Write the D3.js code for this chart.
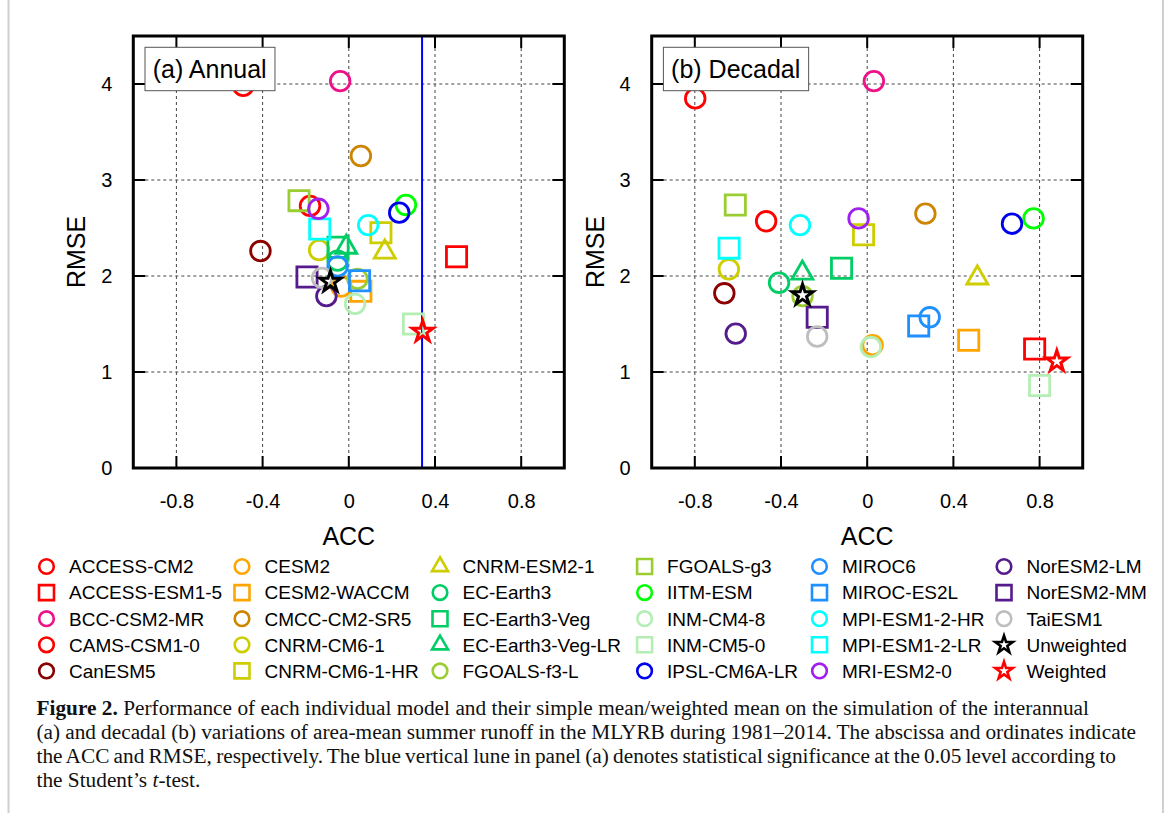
<!DOCTYPE html>
<html><head><meta charset="utf-8">
<script src="https://cdn.jsdelivr.net/npm/d3@7"></script>
<style>body{margin:0;background:#fff;overflow:hidden}</style>
</head><body>
<svg id="chart" width="1171" height="813"></svg>
<script>
// ---------------- data ----------------
const models = ["ACCESS-CM2","ACCESS-ESM1-5","BCC-CSM2-MR","CAMS-CSM1-0","CanESM5",
  "CESM2","CESM2-WACCM","CMCC-CM2-SR5","CNRM-CM6-1","CNRM-CM6-1-HR",
  "CNRM-ESM2-1","EC-Earth3","EC-Earth3-Veg","EC-Earth3-Veg-LR","FGOALS-f3-L",
  "FGOALS-g3","IITM-ESM","INM-CM4-8","INM-CM5-0","IPSL-CM6A-LR",
  "MIROC6","MIROC-ES2L","MPI-ESM1-2-HR","MPI-ESM1-2-LR","MRI-ESM2-0",
  "NorESM2-LM","NorESM2-MM","TaiESM1","Unweighted","Weighted"];
const shapes = ["circle","square","circle","circle","circle",
  "circle","square","circle","circle","square",
  "triangle","circle","square","triangle","circle",
  "square","circle","circle","square","circle",
  "circle","square","circle","square","circle",
  "circle","square","circle","star","star"];
const colors = ["#ff0000","#ff0000","#ee1289","#ff0000","#8b0000",
  "#ffa500","#ffa500","#cd8500","#cdcd00","#cdcd00",
  "#cdcd00","#00cd66","#00cd66","#00cd66","#9acd32",
  "#9acd32","#00ff00","#b4eeb4","#b4eeb4","#0000ee",
  "#1e90ff","#1e90ff","#00ffff","#00ffff","#a020f0",
  "#551a8b","#551a8b","#bebebe","#000000","#ff0000"];
const accAnnual = [-0.49,0.50,-0.04,-0.18,-0.41,
  -0.035,0.056,0.056,-0.138,0.149,
  0.167,-0.052,-0.05,-0.012,0.04,
  -0.231,0.265,0.029,0.30,0.234,
  -0.052,0.05,0.09,-0.135,-0.141,
  -0.104,-0.194,-0.124,-0.085,0.343];
const rmseAnnual = [3.98,2.20,4.03,2.73,2.26,
  1.89,1.84,3.25,2.27,2.45,
  2.25,2.16,2.30,2.30,1.97,
  2.785,2.74,1.71,1.50,2.66,
  2.10,1.95,2.53,2.49,2.70,
  1.79,1.99,1.98,1.94,1.42];
const accDecadal = [-0.798,0.777,0.031,-0.469,-0.663,
  0.025,0.471,0.27,-0.642,-0.017,
  0.511,-0.409,-0.119,-0.301,-0.30,
  -0.612,0.772,0.017,0.80,0.672,
  0.29,0.239,-0.312,-0.641,-0.04,
  -0.61,-0.232,-0.232,-0.30,0.88];
const rmseDecadal = [3.85,1.24,4.03,2.57,1.82,
  1.28,1.33,2.65,2.07,2.43,
  1.98,1.93,2.08,2.03,1.79,
  2.74,2.60,1.26,0.86,2.545,
  1.57,1.48,2.53,2.29,2.60,
  1.40,1.57,1.37,1.80,1.11];
const xTicks = [-0.8,-0.4,0,0.4,0.8];
const yTicks = [0,1,2,3,4];
const panelTitles = ["(a) Annual","(b) Decadal"];
const sigLineAnnual = 0.34;
const captionLines = [
  "Performance of each individual model and their simple mean/weighted mean on the simulation of the interannual",
  "(a) and decadal (b) variations of area-mean summer runoff in the MLYRB during 1981\u20132014. The abscissa and ordinates indicate",
  "the ACC and RMSE, respectively. The blue vertical lune in panel (a) denotes statistical significance at the 0.05 level according to"
];

// ---------------- drawing ----------------
(function(){
const svg = d3.select("#chart");
const SANS = "'Liberation Sans', Arial, Helvetica, sans-serif";
const SERIF = "'Liberation Serif', 'Times New Roman', serif";

svg.append("rect").attr("width",1171).attr("height",813).attr("fill","#fff");
svg.append("line").attr("x1",8.5).attr("x2",8.5).attr("y1",0).attr("y2",813)
  .attr("stroke","#cfcfcf").attr("stroke-width",2);
svg.append("line").attr("x1",1163).attr("x2",1163).attr("y1",0).attr("y2",813)
  .attr("stroke","#cfcfcf").attr("stroke-width",2);

const symType = {circle:d3.symbolCircle, square:d3.symbolSquare, triangle:d3.symbolTriangle, star:d3.symbolStar};
const bigSize = {circle:Math.PI*9.8*9.8, square:20.2*20.2, triangle:191, star:136};
const smallSize = {circle:Math.PI*7.3*7.3, square:15*15, triangle:111, star:95};

const yTop = 36, yBot = 468, W = 431;
const panels = [
  {left:133.3, acc:accAnnual, rmse:rmseAnnual, title:panelTitles[0], sig:sigLineAnnual},
  {left:651.7, acc:accDecadal, rmse:rmseDecadal, title:panelTitles[1], sig:null}
];

panels.forEach((p) => {
  const x = d3.scaleLinear().domain([-1,1]).range([p.left, p.left+W]);
  const y = d3.scaleLinear().domain([0,4.5]).range([yBot, yTop]);
  const g = svg.append("g");

  g.selectAll(".gx").data(xTicks).join("line")
    .attr("x1",d=>x(d)).attr("x2",d=>x(d)).attr("y1",yTop).attr("y2",yBot)
    .attr("stroke","#444").attr("stroke-width",1).attr("stroke-dasharray","3,3");
  g.selectAll(".gy").data(yTicks.filter(d=>d>0)).join("line")
    .attr("x1",p.left).attr("x2",p.left+W).attr("y1",d=>y(d)).attr("y2",d=>y(d))
    .attr("stroke","#444").attr("stroke-width",1).attr("stroke-dasharray","3,3");

  if (p.sig !== null) {
    g.append("line").attr("x1",x(p.sig)).attr("x2",x(p.sig)).attr("y1",yTop).attr("y2",yBot)
      .attr("stroke","#0000ff").attr("stroke-width",2);
  }

  const idx = d3.range(models.length);
  g.selectAll("path.m").data(idx).join("path")
    .attr("class","m")
    .attr("transform",i=>`translate(${x(p.acc[i])},${y(p.rmse[i])})`)
    .attr("d",i=>d3.symbol().type(symType[shapes[i]]).size(bigSize[shapes[i]])())
    .attr("fill","none")
    .attr("stroke",i=>colors[i])
    .attr("stroke-width",i=> shapes[i]==="star" ? 3 : 2.8)
    .attr("stroke-linejoin","miter");

  const tk = 12;
  g.selectAll(".tb").data(xTicks).join("line")
    .attr("x1",d=>x(d)).attr("x2",d=>x(d)).attr("y1",yBot).attr("y2",yBot-tk)
    .attr("stroke","#000").attr("stroke-width",2);
  g.selectAll(".tt").data(xTicks).join("line")
    .attr("x1",d=>x(d)).attr("x2",d=>x(d)).attr("y1",yTop).attr("y2",yTop+tk)
    .attr("stroke","#000").attr("stroke-width",2);
  g.selectAll(".tl").data(yTicks.filter(d=>d>0)).join("line")
    .attr("x1",p.left).attr("x2",p.left+tk).attr("y1",d=>y(d)).attr("y2",d=>y(d))
    .attr("stroke","#000").attr("stroke-width",2);
  g.selectAll(".tr").data(yTicks.filter(d=>d>0)).join("line")
    .attr("x1",p.left+W).attr("x2",p.left+W-tk).attr("y1",d=>y(d)).attr("y2",d=>y(d))
    .attr("stroke","#000").attr("stroke-width",2);

  g.append("rect").attr("x",p.left).attr("y",yTop).attr("width",W).attr("height",yBot-yTop)
    .attr("fill","none").attr("stroke","#000").attr("stroke-width",3);

  const ax = g.append("g").attr("transform",`translate(0,${yBot})`)
    .call(d3.axisBottom(x).tickValues(xTicks).tickSize(0).tickPadding(26).tickFormat(d=>String(d)));
  ax.select(".domain").remove();
  ax.selectAll("text").attr("font-size",20).attr("font-family",SANS).attr("fill","#000");

  const ay = g.append("g").attr("transform",`translate(${p.left},0)`)
    .call(d3.axisLeft(y).tickValues(yTicks).tickSize(0).tickPadding(21).tickFormat(d=>String(d)));
  ay.select(".domain").remove();
  ay.selectAll("text").attr("font-size",20).attr("font-family",SANS).attr("fill","#000");

  g.append("text").attr("x",p.left+W/2).attr("y",545).attr("text-anchor","middle")
    .attr("font-family",SANS).attr("font-size",25).text("ACC");
  g.append("text").attr("transform",`translate(${p.left-48},${(yTop+yBot)/2}) rotate(-90)`)
    .attr("text-anchor","middle").attr("font-family",SANS).attr("font-size",25).text("RMSE");

  const tt = g.append("text").attr("x",p.left+19.4).attr("y",77.5)
    .attr("font-family",SANS).attr("font-size",25).text(p.title);
  const bw = tt.node().getComputedTextLength();
  g.insert("rect", () => tt.node())
    .attr("x",p.left+11.7).attr("y",47.3).attr("width",bw+16).attr("height",43.4)
    .attr("fill","#fff").attr("stroke","#555").attr("stroke-width",1);
});

// legend
const colX = [46.5, 242, 440, 644.6, 819.5, 1004];
const rowY0 = 566.5, rowDY = 26.1;
const lg = svg.append("g");
models.forEach((m,i) => {
  const c = Math.floor(i/5), r = i%5;
  const cx = colX[c], cy = rowY0 + r*rowDY;
  lg.append("path")
    .attr("transform",`translate(${cx},${cy})`)
    .attr("d", d3.symbol().type(symType[shapes[i]]).size(smallSize[shapes[i]])())
    .attr("fill","none").attr("stroke",colors[i]).attr("stroke-width",2.6);
  lg.append("text").attr("x",cx+22.5).attr("y",cy+6.8)
    .attr("font-family",SANS).attr("font-size",19).text(m);
});

// caption
const capX = 36.5;
const capBase = [715, 739, 763, 787];
const capEnd = [1089, 1136, 1116];
const cap = svg.append("g").attr("font-family",SERIF).attr("font-size",21.3).attr("fill","#111");
captionLines.forEach((line,li) => {
  const t = cap.append("text").attr("x",capX).attr("y",capBase[li]);
  if (li===0) {
    t.append("tspan").attr("font-weight","bold").text("Figure 2.");
    t.append("tspan").text(" " + line);
  } else {
    t.text(line);
  }
  const nat = t.node().getComputedTextLength();
  const spaces = (t.text().match(/ /g)||[]).length;
  const ws = (capEnd[li]-capX - nat)/spaces;
  t.attr("word-spacing", ws);
});
const t4 = cap.append("text").attr("x",capX).attr("y",capBase[3]);
t4.append("tspan").text("the Student\u2019s ");
t4.append("tspan").attr("font-style","italic").text("t");
t4.append("tspan").text("-test.");
})();
</script>
</body></html>
